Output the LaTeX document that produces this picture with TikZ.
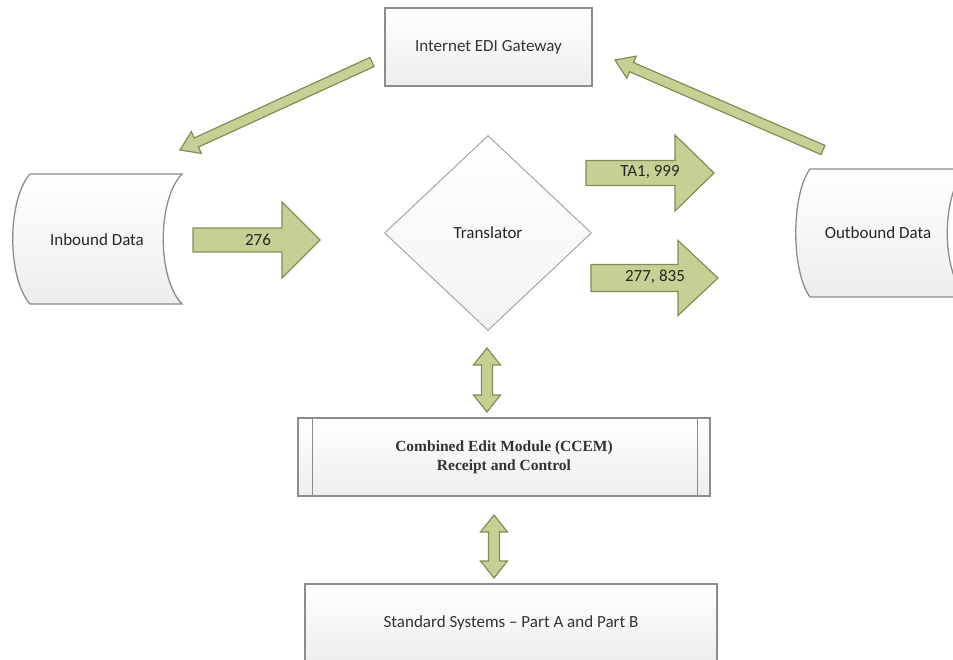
\documentclass[tikz,border=0pt]{standalone}
\usepackage{fontspec}
\setmainfont{Carlito}
\newfontfamily\ccemfont{Liberation Serif}
\usetikzlibrary{calc,shapes.geometric}

\definecolor{boxgray}{RGB}{140,140,140}
\definecolor{arrowfill}{RGB}{196,208,148}
\definecolor{arrowedge}{RGB}{128,142,86}

\tikzset{
	box/.style={draw=boxgray, line width=1.3pt, top color=white, bottom color=black!7,
		text=black!80, font=\fontsize{17}{20}\selectfont},
	greenarrow/.style={draw=arrowedge, fill=arrowfill, line width=1.2pt, line join=miter},
	lbl/.style={font=\fontsize{17}{20}\selectfont, text=black!85}
}

% block arrow: tail, tip, shaft half width, head half width, head length
\newcommand{\fatarrow}[5]{%
	\coordinate (neck) at ($(#2)!#5!(#1)$);
	\draw[greenarrow] ($(#1)!#3!90:(#2)$) -- ($(neck)!#3!90:(#2)$) -- ($(neck)!#4!90:(#2)$)
		-- (#2) -- ($(neck)!#4!-90:(#2)$) -- ($(neck)!#3!-90:(#2)$) -- ($(#1)!#3!-90:(#2)$) -- cycle;
}
% two headed block arrow
\newcommand{\dblarrow}[5]{%
	\coordinate (neckA) at ($(#1)!#5!(#2)$);
	\coordinate (neckB) at ($(#2)!#5!(#1)$);
	\draw[greenarrow] (#1) -- ($(neckA)!#4!90:(#2)$) -- ($(neckA)!#3!90:(#2)$)
		-- ($(neckB)!#3!-90:(#1)$) -- ($(neckB)!#4!-90:(#1)$) -- (#2)
		-- ($(neckB)!#4!90:(#1)$) -- ($(neckB)!#3!90:(#1)$)
		-- ($(neckA)!#3!-90:(#2)$) -- ($(neckA)!#4!-90:(#2)$) -- cycle;
}

\begin{document}
\begin{tikzpicture}[x=1pt, y=-1pt]

	\useasboundingbox (0,0) rectangle (953,660);
	\clip (0,0) rectangle (953,660);

	% boxes
	\node[box, minimum width=207pt, minimum height=78pt] (gateway) at (488.5,47) {Internet EDI Gateway};
	\node[box, minimum width=412pt, minimum height=78pt, align=center,
		font=\ccemfont\bfseries\fontsize{15.5}{19}\selectfont] (ccem) at (504,457)
		{Combined Edit Module (CCEM)\\Receipt and Control};
	\draw[boxgray, line width=1.3pt] ([xshift=15pt]ccem.north west) -- ([xshift=15pt]ccem.south west);
	\draw[boxgray, line width=1.3pt] ([xshift=-13pt]ccem.north east) -- ([xshift=-13pt]ccem.south east);
	\node[box, minimum width=412pt, minimum height=78pt] (std) at (511,623) {Standard Systems -- Part A and Part B};

	% translator
	\node[diamond, draw=black!35, line width=1pt, top color=white, bottom color=black!5,
		minimum width=207pt, minimum height=195pt, inner sep=0pt, lbl] (translator) at (488,233) {Translator};

	% stored data shapes
	\draw[boxgray, line width=1.3pt, top color=white, bottom color=black!7]
		(30,174) -- (182,174) .. controls (157,200) and (157,278) .. (182,304)
		-- (30,304) .. controls (7,278) and (7,200) .. (30,174) -- cycle;
	\node[lbl] (inbound) at (97,240) {Inbound Data};
	\draw[boxgray, line width=1.3pt, top color=white, bottom color=black!7]
		(810,169) -- (966,169) .. controls (941,195) and (941,271) .. (966,297)
		-- (810,297) .. controls (791,271) and (791,195) .. (810,169) -- cycle;
	\node[lbl] (outbound) at (878,233) {Outbound Data};

	% flows
	\coordinate (gwleft) at (372,62);
	\coordinate (inboundtop) at (180,150);
	\fatarrow{gwleft}{inboundtop}{5pt}{12pt}{18pt}
	\coordinate (outboundtop) at (823,150);
	\coordinate (gwright) at (615,60);
	\fatarrow{outboundtop}{gwright}{5pt}{12pt}{18pt}

	\coordinate (a276t) at (193,240);
	\coordinate (a276h) at (320,240);
	\fatarrow{a276t}{a276h}{12pt}{38pt}{38pt}
	\node[lbl] (l276) at (258,240) {276};

	\coordinate (ta1t) at (586,173);
	\coordinate (ta1h) at (714,173);
	\fatarrow{ta1t}{ta1h}{12.5pt}{38pt}{39pt}
	\node[lbl] (lta1) at (650,172) {TA1, 999};

	\coordinate (a277t) at (591,278);
	\coordinate (a277h) at (718,278);
	\fatarrow{a277t}{a277h}{13.5pt}{37.5pt}{40pt}
	\node[lbl] (l277) at (655,277) {277, 835};

	\coordinate (trbottom) at (487,348);
	\coordinate (ccemtop) at (487,412);
	\dblarrow{trbottom}{ccemtop}{5.5pt}{13.5pt}{17pt}
	\coordinate (ccembottom) at (494,515);
	\coordinate (stdtop) at (494,578);
	\dblarrow{ccembottom}{stdtop}{5.5pt}{13.5pt}{17pt}

\end{tikzpicture}
\end{document}
